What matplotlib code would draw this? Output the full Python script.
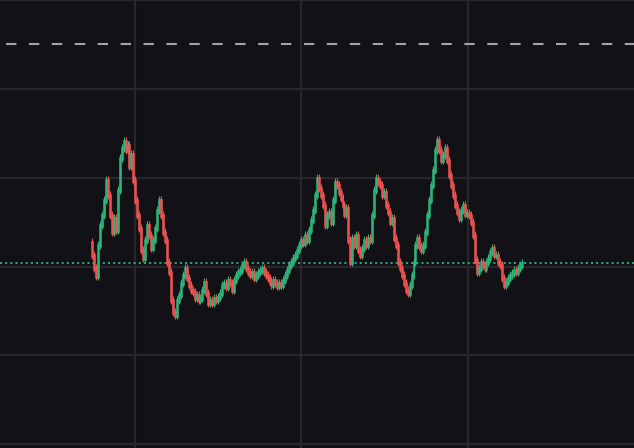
import numpy as np
import matplotlib.pyplot as plt

# closing prices, one per candle (oldest first)
closes = [
    189, 176, 168, 199, 219, 229, 244, 264, 249, 229,
    212, 226, 214, 254, 286, 296, 303,
    294, 299, 278, 290, 264, 244, 229, 216, 194, 186,
    204, 219, 209, 196, 204, 216, 234, 244, 229, 212,
    204, 182, 172, 144, 132, 129,
    144, 149, 161, 169, 176, 166, 159, 154, 152, 146, 149, 144,
    146, 154, 162, 151, 141, 144, 141, 146, 144, 147,
    151, 159, 161, 157, 164, 161, 154, 164, 169, 172,
    174, 179, 182, 176, 172, 169, 172, 166, 169, 172,
    174, 176, 172, 169, 166, 162, 159, 164, 161, 158,
    161, 159, 164, 169, 174, 179, 182, 186, 189, 194,
    199, 204, 201, 209, 204, 214, 224, 234, 249, 266,
    256, 249, 239, 219, 229, 232, 222, 244, 262, 259,
    252, 246, 239, 230, 236, 204, 182, 206, 199, 209,
    194, 189, 196, 204, 199, 206, 204, 229, 254, 266,
    262, 259, 249, 252, 239, 232, 222, 226, 206, 199,
    182, 176, 169, 161, 154, 151, 159, 169, 182, 199,
    206, 198, 194, 199, 212, 229, 244, 259, 274, 294,
    304, 294, 284, 289, 296, 284, 269, 259, 249, 239,
    232, 226, 234, 239, 230, 231, 229, 222, 209, 184,
    172, 176, 182, 179, 176, 182, 186, 192, 196, 189,
    189, 182, 179, 166, 159, 162, 166, 169, 171, 174,
    172, 176, 179, 181,
]
first_open = 202
alert_level = 400

up_color = '#2fb57c'
down_color = '#ef5350'
bg_color = '#111116'
grid_color = '#26262c'

closes = np.array(closes, dtype=float)
opens = np.concatenate([[first_open], closes[:-1]])
n = len(closes)
idx = np.arange(n)

plt.rcParams['lines.scale_dashes'] = False
fig = plt.figure(figsize=(6.34, 4.48), dpi=100, facecolor=bg_color)
ax = fig.add_axes([0, 0, 1, 1], facecolor=bg_color)

# pixel layout of the reference: first candle at x=92, last at x=522
step = 430 / (n - 1)
ax.set_xlim(-92 / step, (634 - 92) / step)
ax.set_ylim(-4, 444)

for px in (135, 301.5, 468):
    ax.axvline((px - 92) / step, color=grid_color, lw=1.6, zorder=0)
for py in np.arange(0, 444, 88.75):
    ax.axhline(py, color=grid_color, lw=1.6, zorder=0)

up = closes >= opens
colors = np.where(up, up_color, down_color)
lo = np.minimum(opens, closes)
hi = np.maximum(opens, closes)
ax.vlines(idx, lo - 4, hi + 4, colors=colors, lw=0.8, zorder=3)
ax.bar(idx, hi - lo + 3, bottom=lo - 1.5, width=1.0, color=colors,
       edgecolor=colors, linewidth=0.4, zorder=3)

ax.axhline(alert_level, xmin=6 / 634, color='#a3a3a8', lw=1.5, dashes=(7.5, 9), zorder=2)
last_color = up_color if up[-1] else down_color
ax.axhline(closes[-1], color=last_color, lw=1.3, dashes=(1.5, 2.2), zorder=2)

ax.set_xticks([])
ax.set_yticks([])
for s in ax.spines.values():
    s.set_visible(False)

fig.savefig('out.png', dpi=100, facecolor=bg_color)
